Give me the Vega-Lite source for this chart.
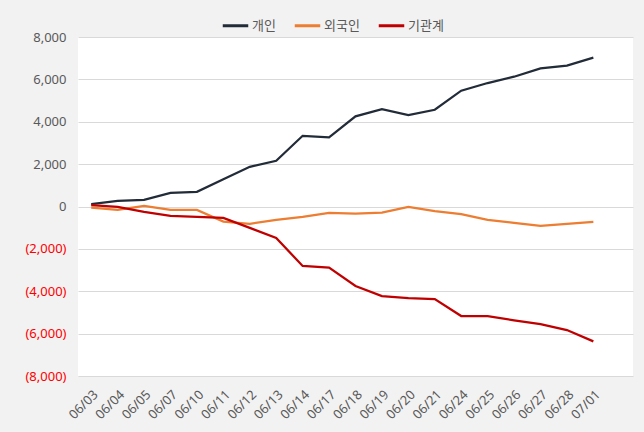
{
  "$schema": "https://vega.github.io/schema/vega-lite/v6.json",
  "width": 555,
  "height": 339,
  "autosize": {"type": "none"},
  "padding": {"left": 78, "top": 37, "right": 11, "bottom": 56},
  "background": "#f2f2f2",
  "config": {
    "view": {"fill": "white", "stroke": null},
    "axis": {"labelFont": "Noto Sans", "labelColor": "#595959"},
    "legend": {"labelFont": "Noto Sans CJK KR"}
  },
  "data": {
    "values": [
      {"date": "06/03", "series": "개인", "value": 110},
      {"date": "06/04", "series": "개인", "value": 265},
      {"date": "06/05", "series": "개인", "value": 312},
      {"date": "06/07", "series": "개인", "value": 643},
      {"date": "06/10", "series": "개인", "value": 690},
      {"date": "06/11", "series": "개인", "value": 1290},
      {"date": "06/12", "series": "개인", "value": 1872},
      {"date": "06/13", "series": "개인", "value": 2155},
      {"date": "06/14", "series": "개인", "value": 3337},
      {"date": "06/17", "series": "개인", "value": 3260},
      {"date": "06/18", "series": "개인", "value": 4253},
      {"date": "06/19", "series": "개인", "value": 4598},
      {"date": "06/20", "series": "개인", "value": 4315},
      {"date": "06/21", "series": "개인", "value": 4566},
      {"date": "06/24", "series": "개인", "value": 5465},
      {"date": "06/25", "series": "개인", "value": 5827},
      {"date": "06/26", "series": "개인", "value": 6126},
      {"date": "06/27", "series": "개인", "value": 6522},
      {"date": "06/28", "series": "개인", "value": 6647},
      {"date": "07/01", "series": "개인", "value": 7024},
      {"date": "06/03", "series": "외국인", "value": -50},
      {"date": "06/04", "series": "외국인", "value": -160},
      {"date": "06/05", "series": "외국인", "value": 30},
      {"date": "06/07", "series": "외국인", "value": -160},
      {"date": "06/10", "series": "외국인", "value": -160},
      {"date": "06/11", "series": "외국인", "value": -710},
      {"date": "06/12", "series": "외국인", "value": -820},
      {"date": "06/13", "series": "외국인", "value": -630},
      {"date": "06/14", "series": "외국인", "value": -490},
      {"date": "06/17", "series": "외국인", "value": -300},
      {"date": "06/18", "series": "외국인", "value": -340},
      {"date": "06/19", "series": "외국인", "value": -285},
      {"date": "06/20", "series": "외국인", "value": -20},
      {"date": "06/21", "series": "외국인", "value": -222},
      {"date": "06/24", "series": "외국인", "value": -364},
      {"date": "06/25", "series": "외국인", "value": -630},
      {"date": "06/26", "series": "외국인", "value": -775},
      {"date": "06/27", "series": "외국인", "value": -915},
      {"date": "06/28", "series": "외국인", "value": -820},
      {"date": "07/01", "series": "외국인", "value": -725},
      {"date": "06/03", "series": "기관계", "value": 60},
      {"date": "06/04", "series": "기관계", "value": -20},
      {"date": "06/05", "series": "기관계", "value": -255},
      {"date": "06/07", "series": "기관계", "value": -443},
      {"date": "06/10", "series": "기관계", "value": -490},
      {"date": "06/11", "series": "기관계", "value": -540},
      {"date": "06/12", "series": "기관계", "value": -1010},
      {"date": "06/13", "series": "기관계", "value": -1485},
      {"date": "06/14", "series": "기관계", "value": -2807},
      {"date": "06/17", "series": "기관계", "value": -2885},
      {"date": "06/18", "series": "기관계", "value": -3752},
      {"date": "06/19", "series": "기관계", "value": -4225},
      {"date": "06/20", "series": "기관계", "value": -4320},
      {"date": "06/21", "series": "기관계", "value": -4366},
      {"date": "06/24", "series": "기관계", "value": -5170},
      {"date": "06/25", "series": "기관계", "value": -5170},
      {"date": "06/26", "series": "기관계", "value": -5373},
      {"date": "06/27", "series": "기관계", "value": -5548},
      {"date": "06/28", "series": "기관계", "value": -5832},
      {"date": "07/01", "series": "기관계", "value": -6366}
    ]
  },
  "mark": {"type": "line", "strokeWidth": 2.25},
  "encoding": {
    "x": {
      "field": "date",
      "type": "ordinal",
      "sort": null,
      "scale": {"type": "point", "padding": 1, "align": 0.25},
      "axis": {
        "title": null,
        "labelAngle": -45,
        "labelFontSize": 13,
        "labelAlign": "right",
        "labelBaseline": "top",
        "ticks": false,
        "domain": false,
        "grid": false,
        "labelPadding": 12
      }
    },
    "y": {
      "field": "value",
      "type": "quantitative",
      "scale": {"domain": [-8000, 8000], "nice": false, "zero": false},
      "axis": {
        "title": null,
        "values": [-8000, -6000, -4000, -2000, 0, 2000, 4000, 6000, 8000],
        "labelExpr": "datum.value < 0 ? '(' + format(-datum.value, ',') + ')' : format(datum.value, ',') + '\u00a0'",
        "labelColor": {"expr": "datum.value < 0 ? '#ff0000' : '#595959'"},
        "labelFontSize": 13,
        "labelPadding": 12,
        "ticks": false,
        "domain": false,
        "gridColor": "#d9d9d9",
        "gridWidth": 1
      }
    },
    "color": {
      "field": "series",
      "type": "nominal",
      "sort": ["개인", "외국인", "기관계"],
      "scale": {"domain": ["개인", "외국인", "기관계"], "range": ["#222b38", "#ed7d31", "#c00000"]},
      "legend": {
        "title": null,
        "orient": "none",
        "direction": "horizontal",
        "legendX": 143,
        "legendY": -26,
        "symbolType": "stroke",
        "symbolStrokeWidth": 3,
        "symbolSize": 650,
        "labelFontSize": 13,
        "labelColor": "#595959",
        "labelOffset": 2,
        "columnPadding": 12
      }
    }
  }
}
